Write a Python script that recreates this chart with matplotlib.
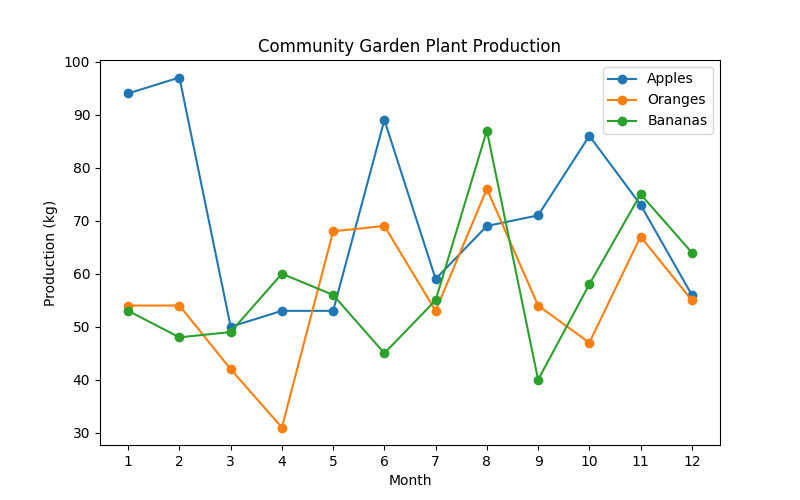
import matplotlib
matplotlib.use('Agg')
import matplotlib.pyplot as plt

# monthly production in kg
months = list(range(1, 13))
apples = [94, 97, 50, 53, 53, 89, 59, 69, 71, 86, 73, 56]
oranges = [54, 54, 42, 31, 68, 69, 53, 76, 54, 47, 67, 55]
bananas = [53, 48, 49, 60, 56, 45, 55, 87, 40, 58, 75, 64]

fig, ax = plt.subplots(figsize=(8, 5), dpi=100)
ax.plot(months, apples, marker='o', label='Apples')
ax.plot(months, oranges, marker='o', label='Oranges')
ax.plot(months, bananas, marker='o', label='Bananas')

ax.set_title('Community Garden Plant Production')
ax.set_xlabel('Month')
ax.set_ylabel('Production (kg)')
ax.set_xticks(months)
ax.legend()

fig.savefig('out.png')
